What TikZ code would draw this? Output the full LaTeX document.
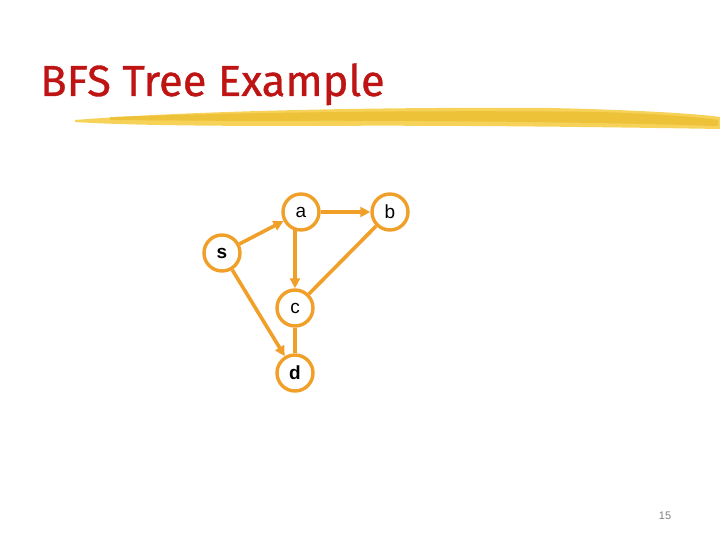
\documentclass[tikz,border=0pt]{standalone}
\usepackage{fontspec}
\setmainfont{Liberation Sans}
\newfontfamily\titlefont[FakeBold=0.8]{Fira Sans}
\usetikzlibrary{arrows.meta,backgrounds}
\definecolor{orng}{RGB}{240,160,40}
\definecolor{ttl}{RGB}{190,20,20}
\definecolor{brushA}{RGB}{245,205,70}
\definecolor{brushB}{RGB}{232,182,35}
\tikzset{
  vtx/.style={circle, draw=orng, line width=3.4pt, fill=white, minimum size=36pt, inner sep=0pt, font=\fontsize{19}{19}\selectfont},
  edge/.style={draw=orng, line width=3.6pt},
  arr/.style={edge, -{Triangle[length=10pt,width=10pt]}}
}
\begin{document}
\begin{tikzpicture}[x=1pt,y=-1pt]
\useasboundingbox (0,0) rectangle (720,540);
% title
\node[anchor=base west, inner sep=0pt, text=ttl, font=\titlefont\fontsize{43.5}{43.5}\selectfont] (title) at (40,96) {BFS Tree Example};
% brush stroke
\fill[brushA, opacity=0.9] (75,120) .. controls (200,110) and (400,107) .. (550,108)
  .. controls (640,110) and (700,114) .. (720,117) -- (720,129)
  .. controls (600,127) and (450,125) .. (300,126)
  .. controls (200,126) and (120,125) .. (75,122) -- cycle;
\fill[brushB, opacity=0.6] (110,117) .. controls (250,112) and (450,110) .. (600,112)
  .. controls (660,114) and (700,117) .. (718,120) -- (718,126)
  .. controls (600,122) and (400,120) .. (250,121) -- (110,120) -- cycle;
% nodes
\node[vtx] (a) at (301,212) {a};
\node[vtx] (b) at (390,212) {b};
\node[vtx, font=\bfseries\fontsize{19}{19}\selectfont] (s) at (222,253) {s};
\node[vtx] (c) at (295,308) {c};
\node[vtx, font=\bfseries\fontsize{19}{19}\selectfont] (d) at (295,373) {d};
% edges
\begin{scope}[on background layer]
\draw[arr] (s) -- (a);
\draw[arr] (a) -- (b);
\draw[arr] (c |- a) -- (c);
\draw[edge] (b) -- (c);
\draw[arr] (s) -- (d);
\draw[edge] (c) -- (d);
\end{scope}
% page number
\node[anchor=base, text=gray, font=\fontsize{11}{11}\selectfont] (pg) at (665,519) {15};
\end{tikzpicture}
\end{document}
